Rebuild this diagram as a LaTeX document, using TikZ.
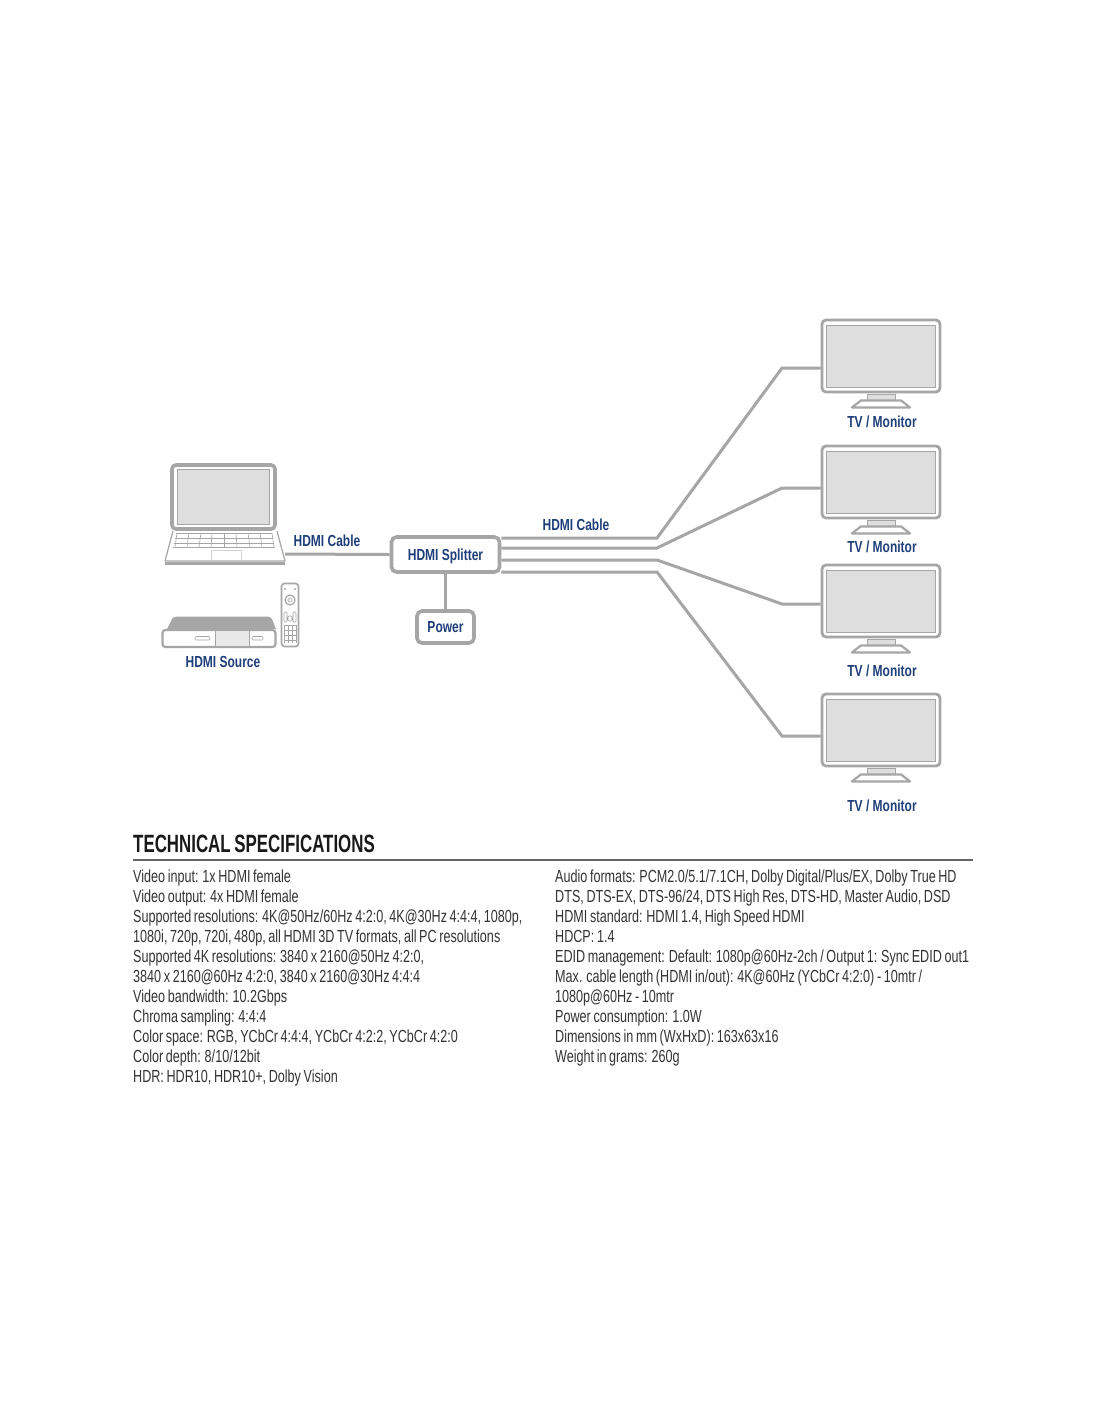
\documentclass[tikz,border=0pt]{standalone}
\usepackage{fontspec}
\usetikzlibrary{calc}
\setmainfont[FakeStretch=0.72,WordSpace=0.75]{Liberation Sans}
\newfontfamily\headfont[FakeStretch=0.675,WordSpace=0.8]{Liberation Sans Bold}
\newfontfamily\labelfont[FakeStretch=0.75]{Liberation Sans Bold}
\definecolor{cablegray}{HTML}{A6A6A6}
\definecolor{screengray}{HTML}{DEDEDE}
\definecolor{labelblue}{HTML}{1F3F7A}
\definecolor{spectext}{HTML}{333333}
\tikzset{
  unitbox/.style={draw=cablegray,line width=3.6pt,rounded corners=5pt,fill=white,text=labelblue,text height=11.5pt,text depth=0pt,font=\labelfont\fontsize{16}{18}\selectfont},
  tvbox/.style={draw=cablegray,line width=2.8pt,rounded corners=4pt,fill=white,minimum width=118pt,minimum height=72pt,inner sep=0pt},
  tvscreen/.style={draw=cablegray,line width=0.8pt,fill=screengray,minimum width=109pt,minimum height=62pt,inner sep=0pt},
  cable/.style={draw=cablegray,line width=3pt},
  thinline/.style={draw=cablegray,line width=0.6pt},
  devlabel/.style={text=labelblue,text height=11.5pt,text depth=0pt,font=\labelfont\fontsize{16}{18}\selectfont,inner sep=0pt},
  specline/.style={anchor=base west,text=spectext,font=\fontsize{17.5}{20}\selectfont,inner sep=0pt}
}
\begin{document}
\begin{tikzpicture}[x=1pt,y=-1pt]
\useasboundingbox (0,0) rectangle (1100,1422);

% monitors
\foreach \n/\ytv/\ylab in {1/356/422,2/482/547,3/601/671,4/730/806}{
  \node[tvbox] (tv\n) at (881,\ytv) {};
  \node[tvscreen] (scr\n) at (tv\n) {};
  \fill[screengray,draw=cablegray,line width=0.8pt] ($(tv\n.south)+(-14,1)$) -- ++(28,0) -- ++(0,6) -- ++(-28,0) -- cycle;
  \draw[draw=cablegray,fill=white,line width=2.2pt,line join=round] ($(tv\n.south)+(-20,7)$) -- ++(40,0) -- ++(9,7) -- ++(-58,0) -- cycle;
  \node[devlabel] (tvlab\n) at (882,\ylab) {TV / Monitor};
}

% laptop
\node[draw=cablegray,line width=3.6pt,rounded corners=4pt,minimum width=103pt,minimum height=64pt,inner sep=0pt] (lid) at (223.5,497) {};
\node[draw=cablegray,line width=0.8pt,fill=screengray,minimum width=92pt,minimum height=55pt,inner sep=0pt] (lcd) at (lid) {};
\draw[cablegray,line width=1.2pt,line join=round] (173,531) -- (165,561) -- (285,561) -- (277,531);
\draw[cablegray,line width=3pt] (165,563) -- (285,563);
\coordinate (lapout) at (285,554);
\foreach \yy/\xa/\xb in {533/176/272,538/175/273,543/174/274,547/173/275}
  \draw[thinline] (\xa,\yy) -- (\xb,\yy);
\foreach \xx/\xs in {177/175,189/187,201/199,212/211,224/224,236/237,248/250,260/262,272/274}
  \draw[thinline] (\xx,533) -- (\xs,547);
\draw[draw=cablegray!50,line width=0.6pt] (211,561) -- (211,550) -- (241,550) -- (241,561);

% source box
\fill[cablegray] (167,629) -- (172,619) [rounded corners=2pt] -- (174,616.5) -- (270,616.5) -- (272,619) [sharp corners] -- (276,629) -- cycle;
\node[draw=cablegray,line width=2.2pt,rounded corners=3pt,fill=white,minimum width=113pt,minimum height=17pt,inner sep=0pt] (srcbox) at (219,638.5) {};
\fill[screengray!70] (216,631) rectangle (249,646);
\draw[thinline] (215.5,630) -- (215.5,647) (249.5,630) -- (249.5,647);
\draw[thinline,rounded corners=1pt] (195,636.5) rectangle (210,640);
\draw[thinline,rounded corners=1pt] (252,636.5) rectangle (263,640);
\node[devlabel] (srclab) at (223,661.5) {HDMI Source};

% remote
\node[draw=cablegray,line width=1.6pt,rounded corners=3pt,minimum width=17pt,minimum height=63pt,inner sep=0pt] (remote) at (290,615) {};
\node[draw=cablegray,circle,line width=1.2pt,minimum size=10pt,inner sep=0pt] (rdial) at (290,600) {};
\node[draw=cablegray,circle,line width=0.6pt,minimum size=4pt,inner sep=0pt] (rkey) at (290,600) {};
\foreach \xx in {285,295}
  \fill[cablegray] (\xx,589) circle (1.2pt);
\foreach \yy in {625,630,635,640}
  \draw[thinline] (284,\yy) -- (296,\yy);
\foreach \xx in {284,288,292,296}
  \draw[thinline] (\xx,625) -- (\xx,643);
\draw[thinline,rounded corners=1pt] (284,612) rectangle (287,622) (293,612) rectangle (296,622) (288,616) rectangle (292,621);

% splitter and power
\node[unitbox,minimum width=108pt,minimum height=35pt,inner sep=0pt] (splitter) at (445.5,554.5) {HDMI Splitter};
\node[unitbox,minimum width=57pt,minimum height=32pt,inner sep=0pt] (power) at (445.5,627) {Power};
\draw[cable] (splitter.south) -- (power.north);
\draw[cable] (lapout) -- (splitter.west);

% cables to the monitors
\foreach \n/\ya/\yb in {1/538/368,2/548/488,3/560/604,4/572/736}
  \draw[cable] (splitter.east |- 0,\ya) -- (657,\ya) -- (782,\yb) -- (tv\n.west |- 0,\yb);

\node[devlabel] (inlab) at (327,541) {HDMI Cable};
\node[devlabel] (outlab) at (576,525) {HDMI Cable};

% specifications
\node[anchor=base west,inner sep=0pt,text=black!90,font=\headfont\fontsize{25}{28}\selectfont] (spechead) at (133,852) {TECHNICAL SPECIFICATIONS};
\coordinate (ruleend) at (973,860);
\draw[draw=black!60,line width=2.2pt] (spechead.west |- ruleend) -- (ruleend);

\foreach \txt [count=\n] in {
  {Video input: 1x HDMI female},
  {Video output: 4x HDMI female},
  {Supported resolutions: 4K@50Hz/60Hz 4:2:0, 4K@30Hz 4:4:4, 1080p,},
  {1080i, 720p, 720i, 480p, all HDMI 3D TV formats, all PC resolutions},
  {Supported 4K resolutions: 3840 x 2160@50Hz 4:2:0,},
  {3840 x 2160@60Hz 4:2:0, 3840 x 2160@30Hz 4:4:4},
  {Video bandwidth: 10.2Gbps},
  {Chroma sampling: 4:4:4},
  {Color space: RGB, YCbCr 4:4:4, YCbCr 4:2:2, YCbCr 4:2:0},
  {Color depth: 8/10/12bit},
  {HDR: HDR10, HDR10+, Dolby Vision}}
  \node[specline] (left\n) at (133,{862+20*\n}) {\txt};

\foreach \txt [count=\n] in {
  {Audio formats: PCM2.0/5.1/7.1CH, Dolby Digital/Plus/EX, Dolby True HD},
  {DTS, DTS-EX, DTS-96/24, DTS High Res, DTS-HD, Master Audio, DSD},
  {HDMI standard: HDMI 1.4, High Speed HDMI},
  {HDCP: 1.4},
  {EDID management: Default: 1080p@60Hz-2ch / Output 1: Sync EDID out1},
  {Max. cable length (HDMI in/out): 4K@60Hz (YCbCr 4:2:0) - 10mtr /},
  {1080p@60Hz - 10mtr},
  {Power consumption: 1.0W},
  {Dimensions in mm (WxHxD): 163x63x16},
  {Weight in grams: 260g}}
  \node[specline] (right\n) at (555,{862+20*\n}) {\txt};
\end{tikzpicture}
\end{document}
